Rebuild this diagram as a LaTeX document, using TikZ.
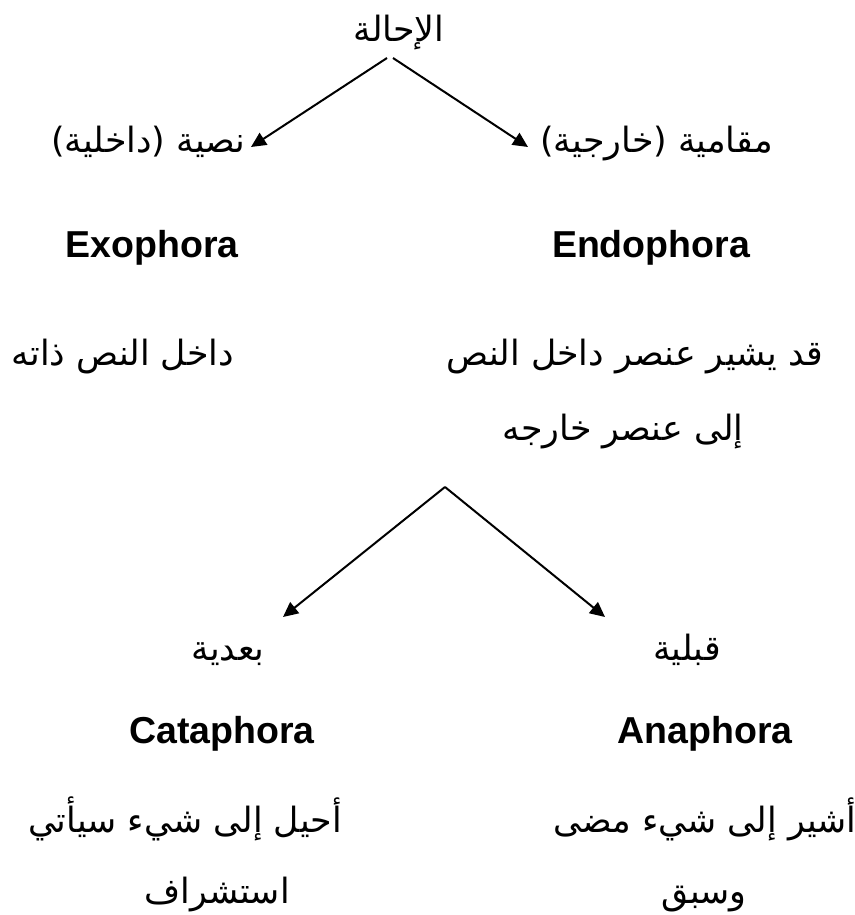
\documentclass[tikz,border=0pt]{standalone}
\usepackage{fontspec}
\setmainfont{Liberation Sans}
\newfontfamily\arabicfont[Script=Arabic]{DejaVu Sans}
\TeXXeTstate=1
\usetikzlibrary{arrows.meta}

\begin{document}
\begin{tikzpicture}[x=0.5pt,y=-0.5pt,
  ar/.style={font=\arabicfont\fontsize{17.4}{20}\selectfont, inner sep=0pt, anchor=base},
  en/.style={font=\bfseries\fontsize{18.75}{22}\selectfont, inner sep=0pt, anchor=base},
  link/.style={line width=1pt, -{Triangle[length=7.5pt,width=7pt]}}]
\useasboundingbox (0,0) rectangle (855,915);

% top level
\node[ar] (root) at (399,42) {\beginR الإحالة\endR};
\node[ar, anchor=base east] (textual) at (246,153) {\beginR نصية (داخلية)\endR};
\node[ar, anchor=base west] (situational) at (540,153) {\beginR مقامية (خارجية)\endR};

\coordinate (rootL) at (387,58);
\coordinate (rootR) at (393,58);
\coordinate (tipL) at (251,147);
\coordinate (tipR) at (528,147);
\draw[link] (rootL) -- (tipL);
\draw[link] (rootR) -- (tipR);

% second level
\node[en] (exo) at (152,257) {Exophora};
\node[en] (endo) at (651,257) {Endophora};
\node[ar] (exodesc) at (123,365) {\beginR داخل النص ذاته\endR};
\node[ar] (endodesc) at (635,365) {\beginR قد يشير عنصر داخل النص\endR};
\node[ar] (endodesc2) at (623,440) {\beginR إلى عنصر خارجه\endR};

% third level
\coordinate (apex) at (445,487);
\coordinate (tipC) at (283,617);
\coordinate (tipA) at (605,617);
\draw[link] (apex) -- (tipC);
\draw[link] (apex) -- (tipA);

\node[ar] (cataar) at (228,660) {\beginR بعدية\endR};
\node[ar] (anaar) at (687,660) {\beginR قبلية\endR};
\node[en] (cata) at (222,743) {Cataphora};
\node[en] (ana) at (705,743) {Anaphora};
\node[ar] (catadesc) at (185,832) {\beginR أحيل إلى شيء سيأتي\endR};
\node[ar] (anadesc) at (705,832) {\beginR أشير إلى شيء مضى\endR};
\node[ar] (catadesc2) at (217,903) {\beginR استشراف\endR};
\node[ar] (anadesc2) at (704,903) {\beginR وسبق\endR};
\end{tikzpicture}
\end{document}
